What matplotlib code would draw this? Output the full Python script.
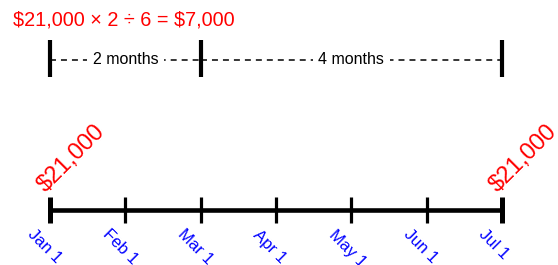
import matplotlib.pyplot as plt

plt.rcParams['font.family'] = ['Liberation Sans', 'DejaVu Sans']
plt.rcParams['lines.scale_dashes'] = False

# timeline data
months = [0, 1, 2, 3, 4, 5, 6]
month_labels = ['Jan 1', 'Feb 1', 'Mar 1', 'Apr 1', 'May 1', 'Jun 1', 'Jul 1']
pay_months = [0, 6]
pay_amounts = [21000, 21000]
span_edges = [0, 2, 6]
span_labels = ['2 months', '4 months']
formula = r'\$21,000 × 2 ÷ 6 = \$7,000'

W, H = 558, 265
x0, dx = 50, 75.33  # pixel of Jan 1 and pixels per month

fig = plt.figure(figsize=(W / 100, H / 100), dpi=100)
ax = fig.add_axes([0, 0, 1, 1])
ax.set_xlim(-x0 / dx, (W - x0) / dx)
ax.set_ylim(H, 0)  # y in pixels from top
ax.axis('off')

# main timeline
y_line = 210
ax.plot([months[0], months[-1]], [y_line, y_line], color='black', lw=3.3,
        solid_capstyle='butt')
for m in months:
    lw = 3.6 if m in pay_months else 2.3
    ax.plot([m, m], [197, 223], color='black', lw=lw, solid_capstyle='butt')

# month labels
for m, lab in zip(months, month_labels):
    ax.annotate(lab, (m, 223), xytext=(-15, -4), textcoords='offset pixels',
                rotation=-45, rotation_mode='anchor', ha='left', va='top',
                color='blue', fontsize=12)

# payments
for m, amt in zip(pay_months, pay_amounts):
    ax.annotate('$' + format(amt, ','), (m, 197), xytext=(-1, 1),
                textcoords='offset pixels', rotation=45, rotation_mode='anchor',
                ha='left', va='bottom', color='red', fontsize=17)

# span brackets
y_br = 60
for e in span_edges:
    ax.plot([e, e], [40, 77], color='black', lw=3, solid_capstyle='butt')
for a, b, lab in zip(span_edges[:-1], span_edges[1:], span_labels):
    ax.plot([a, b], [y_br, y_br], color='black', lw=1.1, dashes=(4.3, 3.6))
    ax.text((a + b) / 2, y_br, lab, ha='center', va='center', fontsize=11.5,
            color='black',
            bbox=dict(facecolor='white', edgecolor='none', pad=4))

ax.text(-37 / dx, 20, formula, ha='left', va='center', color='red',
        fontsize=14.3)

fig.savefig('out.png', dpi=100)
